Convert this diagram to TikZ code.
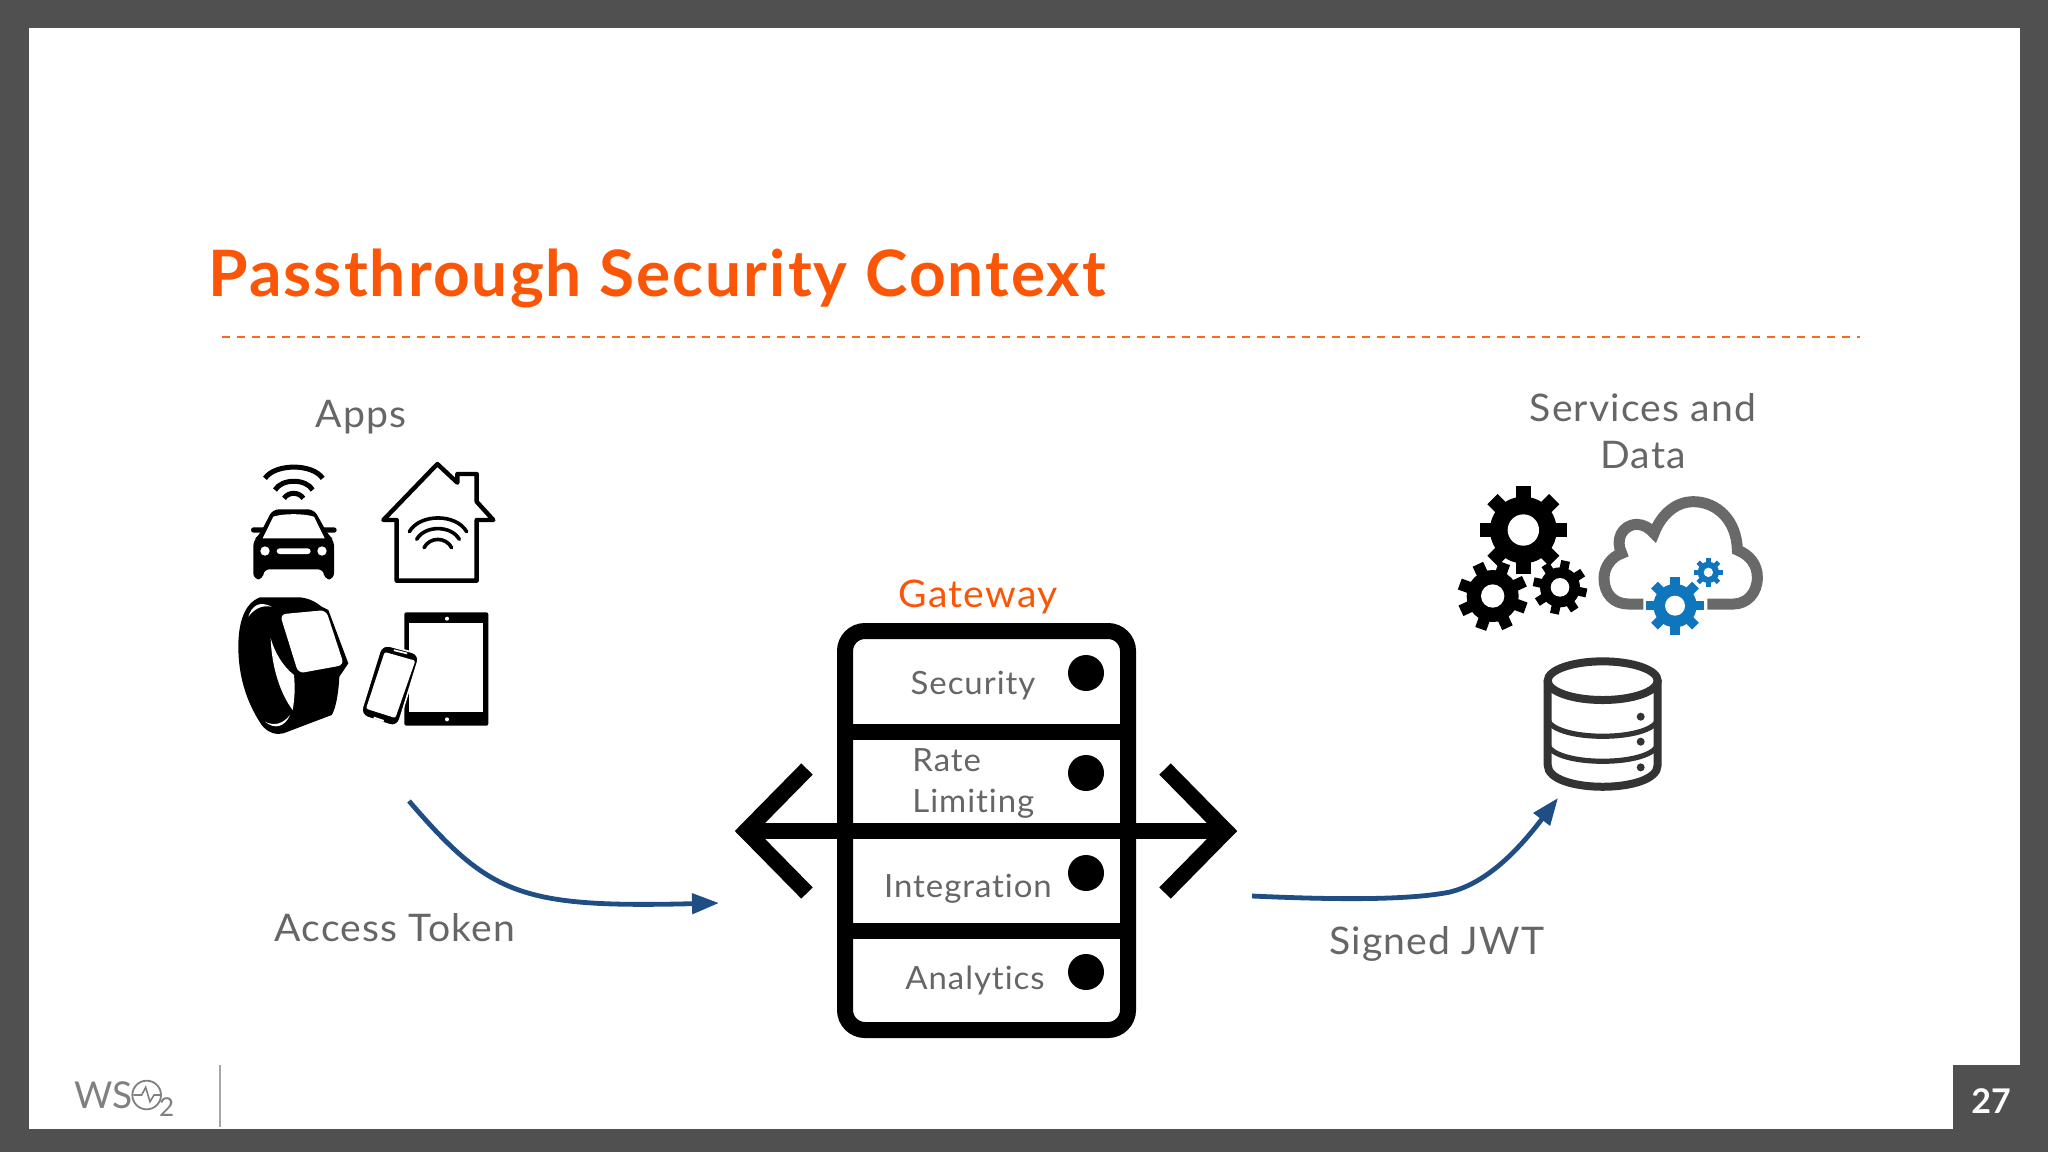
\documentclass[tikz,border=0pt]{standalone}
\usepackage{fontspec}
\setmainfont{Lato}[FakeStretch=1.03,LetterSpace=3,RawFeature={-liga}]
\newfontfamily\titlefont{Lato}[LetterSpace=3.2,RawFeature={-liga}]
\newfontfamily\logofont{Lato}
\usepackage{xcolor}
\usetikzlibrary{arrows.meta,positioning}
\definecolor{framegray}{HTML}{505050}
\definecolor{textgray}{HTML}{666666}
\definecolor{wsoorange}{HTML}{FB5607}
\definecolor{curveblue}{HTML}{1F4E85}
\definecolor{cloudgray}{HTML}{696969}
\definecolor{gearblue}{HTML}{0F75BC}
\definecolor{cangray}{HTML}{333333}
\tikzset{
  lbl/.style={inner sep=0pt,anchor=base,text=textgray,font=\fontsize{19}{23}\selectfont},
  rowlbl/.style={inner sep=0pt,anchor=base,text=textgray,font=\fontsize{16}{19}\selectfont},
  rack/.style={draw=black,fill=white,line width=8pt,rounded corners=10pt,minimum width=141.5pt,minimum height=199.5pt,inner sep=0pt},
  rackline/.style={black,line width=8pt},
  led/.style={circle,fill=black,minimum size=18pt,inner sep=0pt},
  flow/.style={curveblue,line width=2.4pt,->},
  appicon/.style={shift={(220,380)},x=0.16667pt,y=-0.16667pt},
  dataicon/.style={shift={(1430,370)},x=0.16667pt,y=-0.16667pt},
  logoicon/.style={shift={(0,1040)},x=0.16667pt,y=-0.16667pt},
}
\newcommand{\gearicon}[7]{
  \fill[#6] (#1,#2) circle (#4);
  \foreach \k in {1,...,8}
    \draw[#6,line width=#3*0.055pt] (#1,#2) -- ++(\k*45+#7:#3);
  \fill[white] (#1,#2) circle (#5);
}
\begin{document}
\begin{tikzpicture}[x=0.5pt,y=-0.5pt,>={Triangle[length=13.5pt,width=10pt]}]
  \useasboundingbox (0,0) rectangle (2048,1152);
  \fill[framegray] (0,0) rectangle (2048,1152);
  \fill[white] (28.5,28) rectangle (2020,1129);
  \fill[framegray] (1953,1065) rectangle (2020,1129);

  \node[inner sep=0pt,anchor=base west,text=wsoorange,font=\titlefont\bfseries\fontsize{32}{38}\selectfont] (title) at (208,296) {Passthrough Security Context};
  \draw[wsoorange!90,line width=1.2pt,dash pattern=on 4pt off 3.5pt] (222,337) coordinate (dashl) -- (1860,337) coordinate (dashr);

  \node[lbl] (apps) at (361,427) {Apps};
  \node[lbl] (services) at (1643,421) {Services and};
  \node[lbl] (data) at (1643,468) {Data};
  \node[lbl,text=wsoorange] (gateway) at (978,607) {Gateway};

  \begin{scope}[appicon]
    % car
    \draw[black,line width=2.5pt] (135,295) .. controls (165,250) and (278,250) .. (308,295);
    \draw[black,line width=2.5pt] (165,330) .. controls (185,295) and (258,295) .. (278,330);
    \draw[black,line width=2.5pt] (192,355) .. controls (205,335) and (237,335) .. (250,355);
    \fill[black,rounded corners=1.3pt] (93,442) rectangle (350,458);
    \fill[black,rounded corners=3pt] (100,598) -- (100,480) -- (118,465) -- (158,388) -- (282,388) -- (325,465) -- (342,480) -- (342,598) -- (312,598) -- (312,568) -- (130,568) -- (130,598) -- cycle;
    \fill[white] (128,475) -- (160,410) .. controls (190,400) and (250,400) .. (282,410) -- (314,475) -- cycle;
    \fill[white] (135,513) circle (14) (306,513) circle (14);
    \fill[white,rounded corners=1.5pt] (170,505) rectangle (272,522);
    % house
    \draw[black,line width=2.2pt,line join=round] (530,420) -- (490,420) -- (652,252) -- (712,308) -- (712,282) -- (770,282) -- (770,365) -- (820,420) -- (770,420) -- (770,602) -- (530,602) -- cycle;
    \draw[black,line width=1.8pt,line cap=round] (568,455) .. controls (600,400) and (708,400) .. (740,455);
    \draw[black,line width=1.8pt,line cap=round] (590,478) .. controls (615,435) and (693,435) .. (718,478);
    \draw[black,line width=1.8pt,line cap=round] (612,503) .. controls (630,470) and (677,470) .. (695,503);
    % watch
    \fill[black] (120,652) -- (240,652) .. controls (270,655) and (290,668) .. (305,680) -- (325,690) -- (385,850) -- (358,890) .. controls (355,950) and (345,990) .. (335,1005) -- (190,1060) .. controls (170,1065) and (145,1060) .. (125,1035) .. controls (75,960) and (55,880) .. (55,800) .. controls (55,730) and (72,670) .. (120,652) -- cycle;
    \fill[white] (152,775) .. controls (155,860) and (180,940) .. (218,990) .. controls (225,950) and (225,920) .. (222,885) .. controls (190,860) and (165,820) .. (152,775) -- cycle;
    \fill[white,rounded corners=3pt] (180,703) -- (318,690) -- (372,855) -- (235,880) -- cycle;
    \fill[white] (85,710) .. controls (95,680) and (115,660) .. (155,680) .. controls (125,675) and (105,685) .. (85,710) -- cycle;
    \fill[white] (135,1025) .. controls (165,1040) and (190,1030) .. (210,1005) .. controls (195,1040) and (165,1050) .. (135,1025) -- cycle;
    % tablet and phone
    \fill[black,rounded corners=1pt] (553,697) rectangle (805,1037);
    \fill[white] (567,730) rectangle (790,997);
    \fill[white] (681,716) circle (6) (681,1018) circle (6);
    \filldraw[black,draw=white,line width=0.8pt,rounded corners=4pt] (486,792) -- (600,823) -- (532,1042) -- (420,1005) -- cycle;
    \fill[white,rounded corners=1pt] (494,816) -- (586,842) -- (526,1014) -- (438,986) -- cycle;
    \fill[white] (522,808) -- (562,818) -- (561,823) -- (521,813) -- cycle;
    \fill[white] (462,1010) -- (492,1020) -- (490,1026) -- (460,1016) -- cycle;
  \end{scope}

  \node[rack] (rackbox) at (986.5,830.5) {};
  \draw[rackline] (rackbox.west |- 0,732) -- (rackbox.east |- 0,732);
  \draw[rackline] (rackbox.west |- 0,931) -- (rackbox.east |- 0,931);
  \coordinate (gwl) at (746,831);
  \coordinate (gwr) at (1226,831);
  \coordinate (gwlup) at (807,769);
  \coordinate (gwldown) at (807,893);
  \coordinate (gwrup) at (1165,769);
  \coordinate (gwrdown) at (1165,893);
  \draw[rackline] (gwl) -- (gwr);
  \draw[rackline] (gwlup) -- (gwl) -- (gwldown);
  \draw[rackline] (gwrup) -- (gwr) -- (gwrdown);
  \node[led] (led1) at (1086,673) {};
  \node[led] (led2) at (1086,773) {};
  \node[led] (led3) at (1086,873) {};
  \node[led] (led4) at (1086,972) {};
  \node[rowlbl] (security) at (973,694) {Security};
  \node[rowlbl,anchor=base west] (rate) at (912,771) {Rate};
  \node[rowlbl,anchor=base west] (limiting) at (912,812) {Limiting};
  \node[rowlbl] (integration) at (968,897) {Integration};
  \node[rowlbl] (analytics) at (975,989) {Analytics};

  \begin{scope}[dataicon]
    \gearicon{280}{480}{131}{100}{47}{black}{0}
    \gearicon{188}{678}{105}{78}{35}{black}{20}
    \gearicon{390}{652}{81}{60}{28}{black}{12}
    \draw[cloudgray,line width=5.5pt] (640,702) -- (595,702) .. controls (550,702) and (522,670) .. (522,625) .. controls (522,590) and (545,560) .. (575,550) .. controls (555,510) and (575,465) .. (620,463) .. controls (640,463) and (660,475) .. (672,490) .. controls (695,430) and (740,395) .. (790,395) .. controls (860,395) and (920,450) .. (922,540) .. controls (960,555) and (982,585) .. (982,622) .. controls (982,670) and (950,702) .. (910,702) -- (832,702);
    \gearicon{735}{707}{87}{65}{30}{gearblue}{0}
    \gearicon{835}{607}{43}{32}{14}{gearblue}{0}
    % database
    \draw[cangray,line width=4pt] (518,932) ellipse (165 and 58);
    \draw[cangray,line width=4pt] (353,932) -- (353,1185) .. controls (353,1272) and (683,1272) .. (683,1185) -- (683,932);
    \draw[cangray,line width=2.6pt] (353,1050) .. controls (380,1115) and (656,1115) .. (683,1050);
    \draw[cangray,line width=2.6pt] (353,1125) .. controls (380,1190) and (656,1190) .. (683,1125);
    \fill[cangray] (632,1040) circle (12) (632,1115) circle (12) (632,1192) circle (12);
  \end{scope}

  \coordinate (tokenstart) at (409,801);
  \coordinate (tokenend) at (719,903);
  \coordinate (jwtstart) at (1252,896);
  \coordinate (jwtbend) at (1450,892);
  \coordinate (jwtend) at (1558,798);
  \draw[flow] (tokenstart) .. controls (490,895) and (520,908) .. (tokenend);
  \draw[flow] (jwtstart) .. controls (1340,900) and (1410,900) .. (jwtbend) .. controls (1490,882) and (1522,845) .. (jwtend);
  \node[lbl] (token) at (395,941) {Access Token};
  \node[lbl] (jwt) at (1437,954) {Signed JWT};

  \begin{scope}[logoicon]
    \node[inner sep=0pt,anchor=base west,text=gray,font=\logofont\fontsize{18.5}{20}\selectfont] (wso) at (222,205) {WS};
    \draw[gray,line width=0.9pt] (440,165) coordinate (pulse) circle (43);
    \draw[gray,line width=0.8pt] (400,165) -- (425,165) -- (437,142) -- (450,185) -- (462,165) -- (483,165);
    \node[inner sep=0pt,anchor=base west,text=gray,font=\logofont\fontsize{13}{14}\selectfont] (two) at (476,230) {2};
  \end{scope}
  \draw[gray!70,line width=1pt] (219.5,1065) coordinate (sepa) -- (219.5,1127) coordinate (sepb);
  \node[inner sep=0pt,anchor=center,text=white,font=\logofont\bfseries\fontsize{17}{20}\selectfont] (pageno) at (1991,1101) {27};
\end{tikzpicture}
\end{document}
